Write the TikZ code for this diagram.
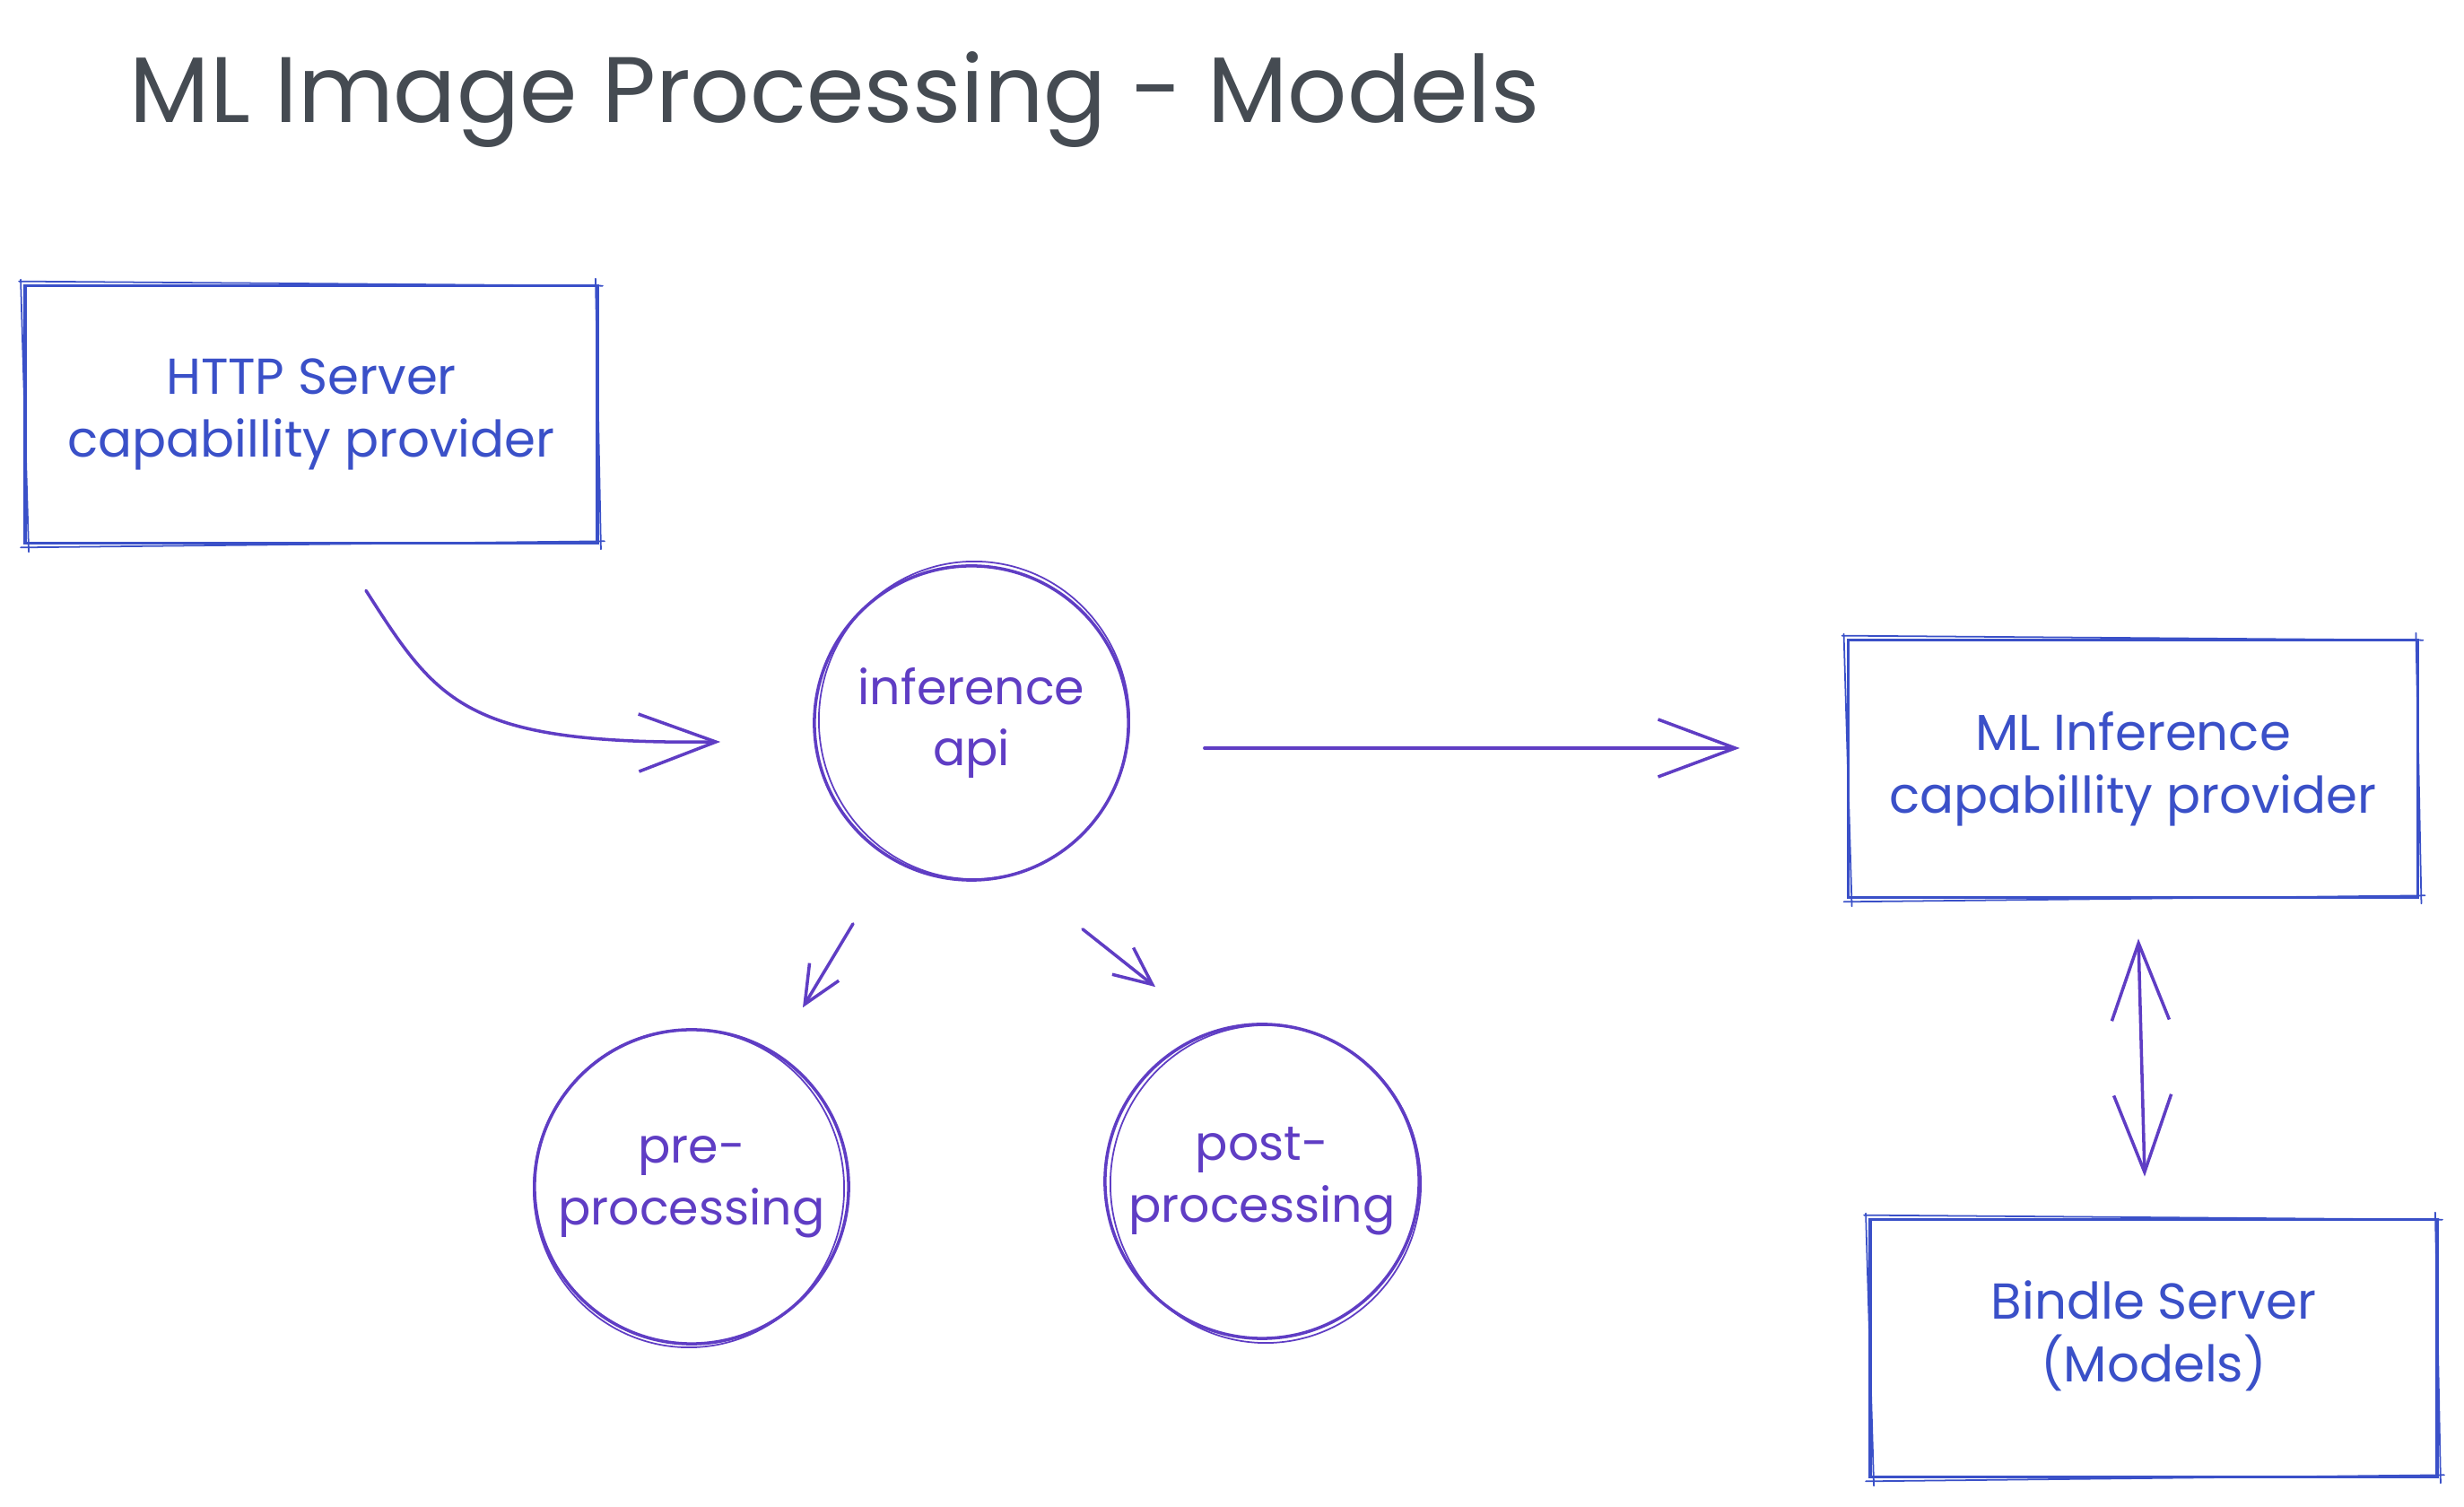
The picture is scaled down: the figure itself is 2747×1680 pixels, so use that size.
\documentclass[tikz,border=0pt]{standalone}
\usepackage{fontspec}
\setmainfont{Poppins}
\usetikzlibrary{arrows.meta,calc}
\definecolor{boxc}{HTML}{3A50C8}
\definecolor{vio}{HTML}{5F3DC4}
\definecolor{titlec}{HTML}{454B52}
\begin{document}
\begin{tikzpicture}[x=0.01cm,y=-0.01cm,
  lbl/.style={font=\fontsize{16}{20}\selectfont, align=center},
  sbox/.style={draw=boxc, line width=1pt, text=boxc, lbl, inner sep=0pt, minimum height=2.87cm},
  scirc/.style={circle, draw=vio, line width=1pt, text=vio, font=\fontsize{15.3}{19.5}\selectfont, align=center, inner sep=0pt, minimum size=3.5cm},
  thin2/.style={line width=0.5pt, line cap=round},
  arr/.style={vio, line width=1pt, line cap=round, -{Straight Barb[length=0.86cm, width=0.64cm, line width=1pt]}},
  darr/.style={vio, line width=1pt, line cap=round, {Straight Barb[length=0.86cm, width=0.64cm, line width=1pt]}-{Straight Barb[length=0.86cm, width=0.64cm, line width=1pt]}},
  sarr/.style={vio, line width=1pt, line cap=round, -{Straight Barb[length=0.42cm, width=0.38cm, line width=1pt]}}
]
\useasboundingbox (0,0) rectangle (2747,1680);
\fill[white] (0,0) rectangle (2747,1680);

% title
\node[anchor=base west, text=titlec, font=\fontsize{29.5}{36}\selectfont, inner sep=0pt] (title) at (144,137) {ML Image Processing - Models};

% boxes
\node[sbox, minimum width=6.38cm] (http) at (347,462) {HTTP Server\\capabillity provider};
\node[sbox, minimum width=6.35cm] (mlinf) at (2378,857) {ML Inference\\capabillity provider};
\node[sbox, minimum width=6.32cm, text height=0pt] (bindle) at (2401,1503) {};
\node[lbl, text=boxc] (bindletxt) at (2401,1489) {Bindle Server\\(Models)};

% sketchy second strokes for boxes
\foreach \n in {http,mlinf,bindle}{
  \draw[boxc, thin2] ($(\n.north west)+(-5,-3)$) -- ($(\n.north east)+(4,2)$);
  \draw[boxc, thin2] ($(\n.north east)+(-4,-6)$) -- ($(\n.south east)+(2,5)$);
  \draw[boxc, thin2] ($(\n.south east)+(6,-4)$) -- ($(\n.south west)+(-3,3)$);
  \draw[boxc, thin2] ($(\n.south west)+(6,8)$) -- ($(\n.north west)+(-3,-5)$);
}

% circles
\node[scirc] (inf) at (1083,806) {inference\\api};
\node[scirc] (pre) at (771,1323) {pre-\\processing};
\node[scirc] (post) at (1407,1317) {post-\\processing};
\foreach \n/\dx/\dy in {inf/3/-3,pre/-3/2,post/4/3}{
  \draw[vio, thin2] ($(\n.center)+(\dx,\dy)$) ellipse [x radius=1.73cm, y radius=1.77cm];
}

% connectors
\coordinate (c1s) at ($(http.south)+(61,51)$);
\coordinate (c1e) at ($(inf.west)+(-103,21)$);
\draw[arr] (c1s) .. controls ($(c1s)+(80,125)$) and ($(c1s)+(110,172)$) .. (c1e);

\coordinate (c2s) at ($(inf.east)+(83,28)$);
\coordinate (c2e) at ($(mlinf.west)+(-119,-23)$);
\draw[arr] (c2s) -- (c2e);

\coordinate (c3s) at ($(inf.south)+(-132,47)$);
\coordinate (c3e) at ($(pre.north)+(124,-23)$);
\draw[sarr] (c3s) -- (c3e);

\coordinate (c4s) at ($(inf.south)+(124,53)$);
\coordinate (c4e) at ($(post.north)+(-119,-40)$);
\draw[sarr] (c4s) -- (c4e);

\coordinate (c5s) at ($(mlinf.south)+(6,44)$);
\coordinate (c5e) at ($(bindle.north)+(-10,-46)$);
\draw[darr] (c5s) -- (c5e);
\end{tikzpicture}
\end{document}
